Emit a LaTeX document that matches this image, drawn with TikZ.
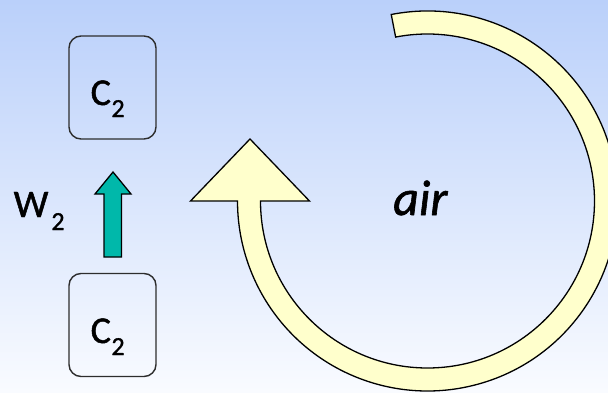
\documentclass[tikz,border=0pt]{standalone}
\usepackage{fontspec}
\setmainfont{Carlito}
\newfontfamily\heavy{Carlito}[RawFeature={embolden=1.2}]
\usetikzlibrary{calc}
\definecolor{bgtop}{RGB}{186,208,250}
\definecolor{bgbot}{RGB}{249,251,255}
\definecolor{teal2}{RGB}{0,184,170}
\definecolor{paleyellow}{RGB}{255,255,204}
\definecolor{boxline}{RGB}{45,45,45}
\tikzset{
  cbox/.style={draw=boxline, line width=1.4pt, rounded corners=12pt, minimum width=87pt, minimum height=103pt, inner sep=0pt},
  lbl/.style={anchor=base west, inner sep=0pt, text=black, font=\heavy},
  bigarrow/.style={fill=paleyellow, draw=black, line width=1.3pt, line join=miter},
  smallarrow/.style={fill=teal2, draw=black, line width=1.3pt, line join=miter}
}
\begin{document}
\begin{tikzpicture}[x=1pt,y=1pt]
\useasboundingbox (0,0) rectangle (608,392);
\shade[top color=bgtop, bottom color=bgbot] (0,0) rectangle (608,392);
% boxes
\node[cbox] (top) at (112.5,304.5) {};
\node[cbox] (bot) at (112.5,67) {};
\node[lbl] (toptxt) at (90.5,287) {\fontsize{38}{40}\selectfont C\kern0.5pt\raisebox{-12pt}{\fontsize{26}{30}\selectfont 2}};
\node[lbl] (bottxt) at (90.5,49) {\fontsize{38}{40}\selectfont C\kern0.5pt\raisebox{-12pt}{\fontsize{26}{30}\selectfont 2}};
% W2
\node[lbl] (w) at (13.5,175) {\fontsize{39}{40}\selectfont W\kern3pt\raisebox{-13pt}{\fontsize{26}{30}\selectfont 2}};
% teal arrow
\draw[smallarrow] (104,135) -- (104,198) -- (95,198) -- (113,220) -- (131,198) -- (121.5,198) -- (121.5,135) -- cycle;
% big circular arrow
\coordinate (c) at (427.5,191);
\draw[bigarrow] ($(c)+(101:190)$) arc[start angle=101, end angle=-180, radius=190]
  -- (190.5,191) -- (250,253) -- (309.5,191) -- (260.5,191)
  arc[start angle=-180, end angle=101, radius=167] -- cycle;
\node[lbl] (air) at (393,177) {\fontsize{50}{52}\selectfont\itshape air};
\end{tikzpicture}
\end{document}
